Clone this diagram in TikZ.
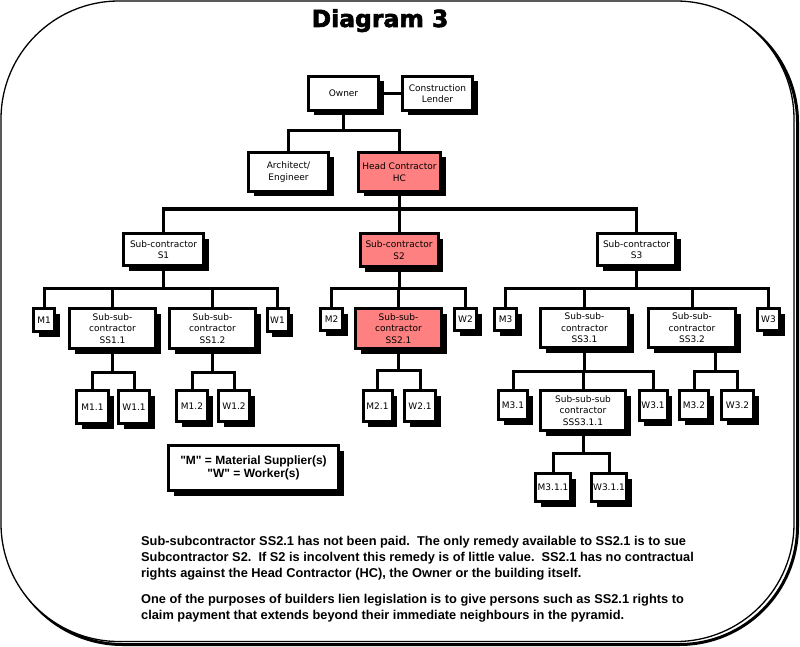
\documentclass[tikz,border=0pt]{standalone}
\usepackage{fontspec}
\setmainfont{DejaVu Sans}
\newfontfamily\bodyfont{Liberation Sans}
\newfontfamily\titlefont[BoldFeatures={FakeBold=2.5}]{DejaVu Sans}
\usetikzlibrary{shadows,calc}
\definecolor{pinkfill}{RGB}{255,128,128}
\tikzset{
  bx/.style={draw, line width=3pt, fill=white, align=center, inner sep=1pt,
    font=\fontsize{9}{11.5}\selectfont,
    drop shadow={shadow xshift=5pt, shadow yshift=-5pt, fill=black, opacity=1}},
  hl/.style={bx, fill=pinkfill},
  conn/.style={line width=3pt},
  bodyline/.style={anchor=base west, inner sep=0pt, font=\bodyfont\bfseries\fontsize{12.8}{16}\selectfont},
}
\begin{document}
\begin{tikzpicture}[x=1pt,y=-1pt]
\useasboundingbox (0,0) rectangle (800,647);
% outer frame
\draw[line width=3pt, rounded corners=118pt] (4.5,4.5) rectangle (797.5,644.5);
\draw[line width=1.3pt, fill=white, rounded corners=118pt] (1,1) rectangle (794,641.5);

\node[anchor=base, font=\titlefont\bfseries\fontsize{23.5}{28}\selectfont] (title) at (380,27) {Diagram 3};

% level 0/1
\node[bx, minimum width=70pt, minimum height=34pt] (owner) at (343.5,93.5) {Owner};
\node[bx, minimum width=70pt, minimum height=34pt] (lender) at (437.5,93.5) {Construction\\Lender};
\node[bx, minimum width=80pt, minimum height=39pt] (arch) at (288.5,172) {Architect/\\Engineer};
\node[hl, minimum width=82pt, minimum height=39pt] (hc) at (399.5,172) {Head Contractor\\HC};

% level 2
\node[bx, minimum width=80pt, minimum height=32pt] (s1) at (163.5,249.5) {Sub-contractor\\S1};
\node[hl, minimum width=78pt, minimum height=33pt] (s2) at (399,250) {Sub-contractor\\S2};
\node[bx, minimum width=78pt, minimum height=32pt] (s3) at (636.5,249.5) {Sub-contractor\\S3};

% level 3 under S1
\node[bx, minimum width=21pt, minimum height=23pt] (m1) at (44,320) {M1};
\node[bx, minimum width=86pt, minimum height=40pt] (ss11) at (112.5,328.5) {Sub-sub-\\contractor\\SS1.1};
\node[bx, minimum width=86pt, minimum height=40pt] (ss12) at (212.5,328.5) {Sub-sub-\\contractor\\SS1.2};
\node[bx, minimum width=21pt, minimum height=23pt] (w1) at (277.5,320) {W1};
\node[bx, minimum width=32pt, minimum height=33pt] (m11) at (92.5,407) {M1.1};
\node[bx, minimum width=31pt, minimum height=33pt] (w11) at (134,407) {W1.1};
\node[bx, minimum width=31pt, minimum height=31pt] (m12) at (192,406) {M1.2};
\node[bx, minimum width=31pt, minimum height=31pt] (w12) at (234,406) {W1.2};

% level 3 under S2
\node[bx, minimum width=22pt, minimum height=22pt] (m2) at (331.5,319.5) {M2};
\node[hl, minimum width=86pt, minimum height=40pt] (ss21) at (398.5,328.5) {Sub-sub-\\contractor\\SS2.1};
\node[bx, minimum width=22pt, minimum height=22pt] (w2) at (465.5,319.5) {W2};
\node[bx, minimum width=29pt, minimum height=31pt] (m21) at (377.5,406) {M2.1};
\node[bx, minimum width=31pt, minimum height=31pt] (w21) at (420,406) {W2.1};

% level 3 under S3
\node[bx, minimum width=22pt, minimum height=22pt] (m3) at (505.5,319.5) {M3};
\node[bx, minimum width=88pt, minimum height=39pt] (ss31) at (584.5,328) {Sub-sub-\\contractor\\SS3.1};
\node[bx, minimum width=87pt, minimum height=39pt] (ss32) at (692,328) {Sub-sub-\\contractor\\SS3.2};
\node[bx, minimum width=22pt, minimum height=22pt] (w3) at (768.5,319.5) {W3};
\node[bx, minimum width=29pt, minimum height=29pt] (m31) at (513,405) {M3.1};
\node[bx, minimum width=85pt, minimum height=40pt] (sss) at (583,410.5) {Sub-sub-sub\\contractor\\SSS3.1.1};
\node[bx, minimum width=28pt, minimum height=30pt] (w31) at (653,405.5) {W3.1};
\node[bx, minimum width=29pt, minimum height=29pt] (m32) at (694,405) {M3.2};
\node[bx, minimum width=32pt, minimum height=29pt] (w32) at (737.5,405) {W3.2};
\node[bx, minimum width=35pt, minimum height=28pt] (m311) at (553,487.5) {M3.1.1};
\node[bx, minimum width=35pt, minimum height=28pt] (w311) at (609,487.5) {W3.1.1};

% bar levels
\coordinate (b0) at (0,131);
\coordinate (b1) at (0,209);
\coordinate (b2) at (0,288);
\coordinate (b11) at (0,372);
\coordinate (b21) at (0,370);
\coordinate (b31) at (0,371);
\coordinate (b311) at (0,453);
\coordinate (mid32) at ($(m32.north)!0.5!(w32.north)$);

% connectors
\draw[conn] (owner.east) -- (lender.west);
\draw[conn] (owner.south) -- (owner.south |- b0);
\draw[conn] (arch.north) -- (arch.north |- b0) -- (hc.north |- b0) -- (hc.north);

\draw[conn] (hc.south) -- (hc.south |- b1);
\draw[conn] (s1.north) -- (s1.north |- b1) -- (s3.north |- b1) -- (s3.north);
\draw[conn] (s2.north) -- (s2.north |- b1);

\draw[conn] (s1.south) -- (s1.south |- b2);
\draw[conn] (m1.north) -- (m1.north |- b2) -- (w1.north |- b2) -- (w1.north);
\draw[conn] (ss11.north) -- (ss11.north |- b2);
\draw[conn] (ss12.north) -- (ss12.north |- b2);

\draw[conn] (s2.south) -- (s2.south |- b2);
\draw[conn] (m2.north) -- (m2.north |- b2) -- (w2.north |- b2) -- (w2.north);
\draw[conn] (ss21.north) -- (ss21.north |- b2);

\draw[conn] (s3.south) -- (s3.south |- b2);
\draw[conn] (m3.north) -- (m3.north |- b2) -- (w3.north |- b2) -- (w3.north);
\draw[conn] (ss31.north) -- (ss31.north |- b2);
\draw[conn] (ss32.north) -- (ss32.north |- b2);

\draw[conn] (ss11.south) -- (ss11.south |- b11);
\draw[conn] (m11.north) -- (m11.north |- b11) -- (w11.north |- b11) -- (w11.north);
\draw[conn] (ss12.south) -- (ss12.south |- b11);
\draw[conn] (m12.north) -- (m12.north |- b11) -- (w12.north |- b11) -- (w12.north);

\draw[conn] (ss21.south) -- (ss21.south |- b21);
\draw[conn] (m21.north) -- (m21.north |- b21) -- (w21.north |- b21) -- (w21.north);

\draw[conn] (ss31.south) -- (ss31.south |- b31);
\draw[conn] (m31.north) -- (m31.north |- b31) -- (w31.north |- b31) -- (w31.north);
\draw[conn] (sss.north) -- (sss.north |- b31);
\draw[conn] (mid32 |- ss32.south) -- (mid32 |- b31);
\draw[conn] (m32.north) -- (m32.north |- b31) -- (w32.north |- b31) -- (w32.north);

\draw[conn] (sss.south) -- (sss.south |- b311);
\draw[conn] (m311.north) -- (m311.north |- b311) -- (w311.north |- b311) -- (w311.north);

% legend
\node[bx, minimum width=170pt, minimum height=45pt, font=\bodyfont\bfseries\fontsize{12}{13}\selectfont] (legend) at (253.5,468) {"M" = Material Supplier(s)\\"W" = Worker(s)};

% body text
\node[bodyline] (t1) at (141,545) {Sub-subcontractor SS2.1 has not been paid.\ \ The only remedy available to SS2.1 is to sue};
\node[bodyline] (t2) at (141,561) {Subcontractor S2.\ \ If S2 is incolvent this remedy is of little value.\ \ SS2.1 has no contractual};
\node[bodyline] (t3) at (141,577) {rights against the Head Contractor (HC), the Owner or the building itself.};
\node[bodyline] (t4) at (141,603) {One of the purposes of builders lien legislation is to give persons such as SS2.1 rights to};
\node[bodyline] (t5) at (141,619) {claim payment that extends beyond their immediate neighbours in the pyramid.};
\end{tikzpicture}
\end{document}
